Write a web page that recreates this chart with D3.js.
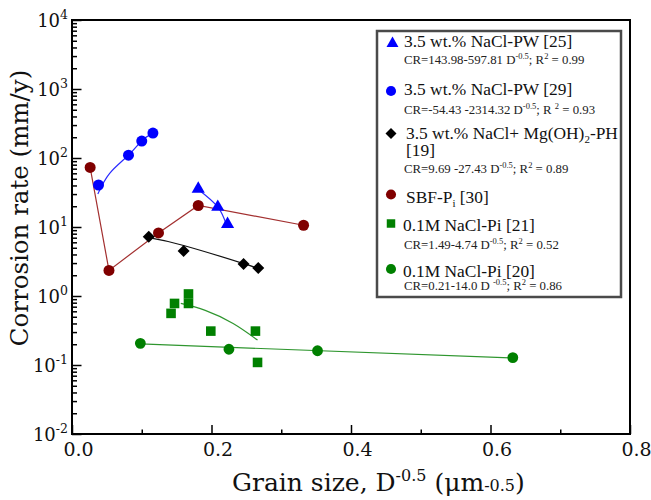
<!DOCTYPE html>
<html>
<head>
<meta charset="utf-8">
<script src="https://cdn.jsdelivr.net/npm/d3@7"></script>
<style>
  body { margin: 0; background: #fff; }
</style>
</head>
<body>
<svg id="chart" width="651" height="500"></svg>
<script>
// values: [grain size D^-0.5, corrosion rate mm/y]
const pw25 = [[0.181, 35.6], [0.209, 19.5], [0.223, 11.0]];
const pw25Fit = [[0.181, 35], [0.209, 19.5], [0.222, 10.3]];
const pw29 = [[0.038, 40.6], [0.081, 110], [0.100, 176], [0.116, 230]];
const pw29Fit = [[0.037, 30], [0.054, 60], [0.081, 110], [0.100, 178], [0.113, 220]];
const mgoh = [[0.110, 7.2], [0.160, 4.5], [0.246, 2.9], [0.267, 2.55]];
const mgohFit = [[0.110, 7.0], [0.160, 5.4], [0.246, 2.95], [0.267, 2.5]];
const sbf = [[0.026, 73], [0.053, 2.35], [0.124, 8.2], [0.181, 20.5], [0.332, 10.6]];
const nacl21 = [[0.147, 0.78], [0.142, 0.56], [0.167, 1.07], [0.167, 0.78], [0.199, 0.31], [0.263, 0.31], [0.266, 0.109]];
const nacl21Fit = [[0.156, 0.78], [0.191, 0.62], [0.231, 0.40], [0.266, 0.23]];
const nacl20 = [[0.098, 0.206], [0.225, 0.169], [0.352, 0.161], [0.632, 0.128]];
const nacl20Fit = [[0.098, 0.202], [0.632, 0.126]];

const xMajor = [0, 0.2, 0.4, 0.6, 0.8];
const xMinor = [0.1, 0.3, 0.5, 0.7];
const yExp = [-2, -1, 0, 1, 2, 3, 4];

const SERIF = '"DejaVu Serif", serif';
const LEG = '"Liberation Serif", serif';

const svg = d3.select('#chart');
const x = d3.scaleLinear().domain([0, 0.8]).range([72, 630]);
const y = d3.scaleLog().domain([1e-2, 1e4]).range([434, 20]);

// log ticks
const yMajor = yExp.map(e => Math.pow(10, e));
let yMinor = [];
for (let i = 0; i < yExp.length - 1; i++) {
  for (let m = 2; m <= 9; m++) yMinor.push(m * Math.pow(10, yExp[i]));
}

// axes
function axisG(ax, tx, ty) {
  const g = svg.append('g').attr('transform', `translate(${tx},${ty})`).call(ax);
  g.select('.domain').remove();
  g.selectAll('line').attr('stroke', '#000').attr('stroke-width', 1.5);
  return g;
}
axisG(d3.axisLeft(y).tickValues(yMinor).tickSize(-5).tickFormat(''), 72, 0);
axisG(d3.axisLeft(y).tickValues(yMajor).tickSize(-9.5).tickFormat(''), 72, 0);
axisG(d3.axisBottom(x).tickValues(xMinor).tickSize(-4.5).tickFormat(''), 0, 434);
const xg = axisG(d3.axisBottom(x).tickValues(xMajor).tickSize(-9).tickPadding(9).tickFormat(d3.format('.1f')), 0, 434);
xg.selectAll('text').style('font-family', SERIF).style('font-size', '19px')
  .attr('fill', '#111').attr('x', 6);

// y labels 10^n
yExp.forEach(e => {
  const t = svg.append('text')
    .attr('x', 68).attr('y', y(Math.pow(10, e)) + 6.5)
    .attr('text-anchor', 'end').style('font-family', SERIF).style('font-size', '18px').attr('fill', '#111');
  t.append('tspan').text('10');
  t.append('tspan').style('font-size', '12.5px').attr('dy', -8).text(e);
});

// frame
svg.append('rect').attr('x', 72).attr('y', 20).attr('width', 558).attr('height', 414)
  .attr('fill', 'none').attr('stroke', '#000').attr('stroke-width', 2);

// titles
svg.append('text')
  .attr('transform', 'translate(28,208) rotate(-90)')
  .attr('text-anchor', 'middle').style('font-family', SERIF).style('font-size', '24.5px').attr('fill', '#111')
  .text('Corrosion rate (mm/y)');

const xt = svg.append('text').attr('x', 232).attr('y', 491)
  .style('font-family', SERIF).style('font-size', '25px').attr('fill', '#111');
xt.append('tspan').text('Grain size, D');
xt.append('tspan').style('font-size', '16px').attr('dy', -10).text('-0.5');
xt.append('tspan').attr('dy', 10).text(' (\u03bcm');
xt.append('tspan').style('font-size', '16px').text('-0.5');
xt.append('tspan').text(')');

// fit lines
const line = d3.line().x(d => x(d[0])).y(d => y(d[1])).curve(d3.curveNatural);
function fit(data, color) {
  svg.append('path').datum(data).attr('d', line)
    .attr('fill', 'none').attr('stroke', color).attr('stroke-width', 1.2);
}
fit(pw25Fit, '#2a2aff');
fit(pw29Fit, '#2a2aff');
fit(mgohFit, '#111');
fit(nacl21Fit, '#2f962f');
fit(nacl20Fit, '#2f962f');
svg.append('path').datum(sbf)
  .attr('d', d3.line().x(d => x(d[0])).y(d => y(d[1])))
  .attr('fill', 'none').attr('stroke', '#a33030').attr('stroke-width', 1.2);

// markers
function marks(data, type, size, color, rot) {
  svg.append('g').selectAll('path').data(data).enter().append('path')
    .attr('d', d3.symbol().type(type).size(size))
    .attr('transform', d => `translate(${x(d[0])},${y(d[1])}) rotate(${rot || 0})`)
    .attr('fill', color);
}
marks(sbf, d3.symbolCircle, 95, '#800000');
marks(pw29, d3.symbolCircle, 95, '#0000ff');
marks(pw25, d3.symbolTriangle, 75, '#0000ff');
marks(mgoh, d3.symbolSquare, 72, '#000', 45);
marks(nacl21, d3.symbolSquare, 92, '#008000');
marks(nacl20, d3.symbolCircle, 92, '#008000');

// legend
svg.append('rect').attr('x', 377).attr('y', 31).attr('width', 244).attr('height', 266)
  .attr('fill', '#fff').attr('stroke', '#4a4a4a').attr('stroke-width', 2.5);

function legMark(type, size, color, cx, cy, rot) {
  svg.append('path').attr('d', d3.symbol().type(type).size(size))
    .attr('transform', `translate(${cx},${cy}) rotate(${rot || 0})`).attr('fill', color);
}
function title(xp, yp, parts) {
  const t = svg.append('text').attr('x', xp).attr('y', yp)
    .style('font-family', LEG).style('font-size', '17.4px').attr('fill', '#111');
  parts.forEach(p => {
    const s = t.append('tspan').text(p[0]);
    if (p[1]) s.attr('dy', p[1]);
    if (p[2]) s.style('font-size', p[2] + 'px');
  });
}
function formula(xp, yp, a, b, c) {
  const t = svg.append('text').attr('x', xp).attr('y', yp)
    .style('font-family', LEG).style('font-size', '12.8px').attr('fill', '#222');
  t.append('tspan').text(a);
  t.append('tspan').style('font-size', '8.5px').attr('dy', -5).text('-0.5');
  t.append('tspan').attr('dy', 5).text(b);
  t.append('tspan').style('font-size', '8.5px').attr('dy', -5).text('2');
  t.append('tspan').attr('dy', 5).text(c);
}

legMark(d3.symbolTriangle, 62, '#0000ff', 392.5, 43.5);
title(404, 47, [['3.5 wt.% NaCl-PW [25]']]);
formula(404, 64, 'CR=143.98-597.81 D', '; R', ' = 0.99');

legMark(d3.symbolCircle, 80, '#0000ff', 391, 91);
title(404, 95, [['3.5 wt.% NaCl-PW [29]']]);
formula(404, 114, 'CR=-54.43 -2314.32 D', '; R ', ' = 0.93');

legMark(d3.symbolSquare, 60, '#000', 391, 133.5, 45);
title(406, 138.5, [['3.5 wt.% NaCl+ Mg(OH)'], ['2', 4, 11], ['-PH', -4]]);
title(406, 156, [['[19]']]);
formula(404, 172.5, 'CR=9.69 -27.43 D', '; R', ' = 0.89');

legMark(d3.symbolCircle, 80, '#800000', 391, 194.5);
title(406, 202.5, [['SBF-P'], ['i', 4, 11], [' [30]', -4]]);

legMark(d3.symbolSquare, 72, '#008000', 391, 223.5);
title(403, 230.5, [['0.1M NaCl-Pi [21]']]);
formula(404, 249, 'CR=1.49-4.74 D', '; R', ' = 0.52');

legMark(d3.symbolCircle, 80, '#008000', 391, 269);
title(403, 276.5, [['0.1M NaCl-Pi [20]']]);
formula(404, 290, 'CR=0.21-14.0 D ', '; R', ' = 0.86');
</script>
</body>
</html>
